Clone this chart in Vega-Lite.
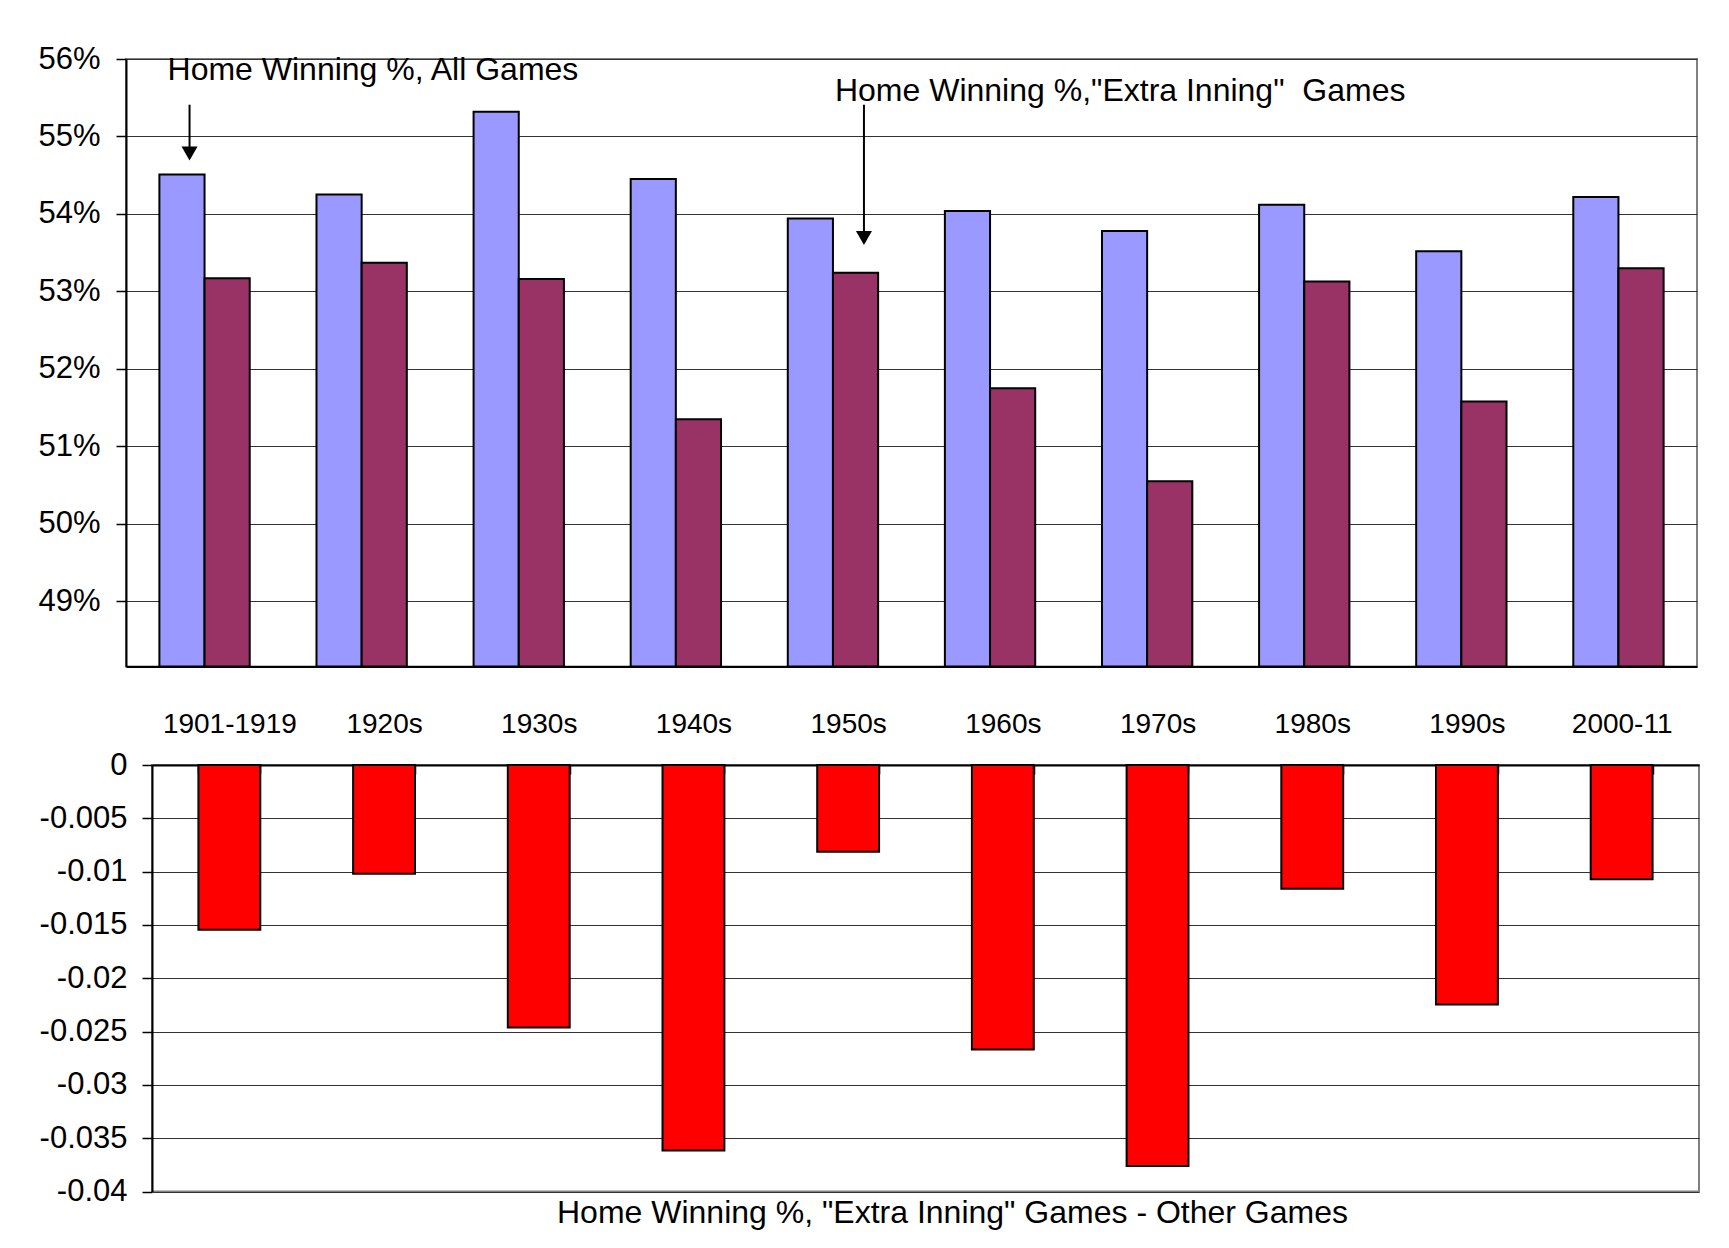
{
  "$schema": "https://vega.github.io/schema/vega-lite/v6.json",
  "usermeta": {"embedOptions": {"actions": false}},
  "background": "white",
  "padding": {"left": 0, "top": 42, "right": 20, "bottom": 10},
  "config": {
    "font": "Liberation Sans",
    "view": {"stroke": "#808080", "strokeWidth": 2},
    "axis": {"labelColor": "black", "labelFont": "Liberation Sans"}
  },
  "datasets": {
    "pct": [
      {"decade": "1901-1919", "series": "All Games", "value": 0.5451},
      {"decade": "1901-1919", "series": "Extra Inning Games", "value": 0.5317},
      {"decade": "1920s", "series": "All Games", "value": 0.5425},
      {"decade": "1920s", "series": "Extra Inning Games", "value": 0.5337},
      {"decade": "1930s", "series": "All Games", "value": 0.5532},
      {"decade": "1930s", "series": "Extra Inning Games", "value": 0.5316},
      {"decade": "1940s", "series": "All Games", "value": 0.5445},
      {"decade": "1940s", "series": "Extra Inning Games", "value": 0.5135},
      {"decade": "1950s", "series": "All Games", "value": 0.5394},
      {"decade": "1950s", "series": "Extra Inning Games", "value": 0.5324},
      {"decade": "1960s", "series": "All Games", "value": 0.5404},
      {"decade": "1960s", "series": "Extra Inning Games", "value": 0.5175},
      {"decade": "1970s", "series": "All Games", "value": 0.5378},
      {"decade": "1970s", "series": "Extra Inning Games", "value": 0.5055},
      {"decade": "1980s", "series": "All Games", "value": 0.5412},
      {"decade": "1980s", "series": "Extra Inning Games", "value": 0.5313},
      {"decade": "1990s", "series": "All Games", "value": 0.5352},
      {"decade": "1990s", "series": "Extra Inning Games", "value": 0.5158},
      {"decade": "2000-11", "series": "All Games", "value": 0.5422},
      {"decade": "2000-11", "series": "Extra Inning Games", "value": 0.5330}
    ],
    "diff": [
      {"decade": "1901-1919", "diff": -0.01545},
      {"decade": "1920s", "diff": -0.01019},
      {"decade": "1930s", "diff": -0.02462},
      {"decade": "1940s", "diff": -0.03616},
      {"decade": "1950s", "diff": -0.00813},
      {"decade": "1960s", "diff": -0.02668},
      {"decade": "1970s", "diff": -0.03761},
      {"decade": "1980s", "diff": -0.01160},
      {"decade": "1990s", "diff": -0.02246},
      {"decade": "2000-11", "diff": -0.01071}
    ]
  },
  "vconcat": [
    {
      "spacing": 0,
      "hconcat": [
        {
          "width": 1, "height": 1,
          "view": {"stroke": null, "fill": "white"},
          "data": {"values": []},
          "mark": {"type": "point", "opacity": 0}
        },
        {
          "width": 1571,
          "height": 607.5,
          "layer": [
            {
              "data": {"name": "pct"},
              "mark": {"type": "bar", "stroke": "black", "strokeWidth": 2},
              "encoding": {
                "x": {
                  "field": "decade", "type": "nominal", "sort": null,
                  "scale": {"domain": ["1901-1919", "1920s", "1930s", "1940s", "1950s", "1960s", "1970s", "1980s", "1990s", "2000-11"], "paddingInner": 0.425, "paddingOuter": 0.2125},
                  "axis": {"title": null, "labels": false, "ticks": false, "grid": false, "domain": true, "domainColor": "black", "domainWidth": 2, "minExtent": 0, "maxExtent": 0}
                },
                "xOffset": {"field": "series", "type": "nominal", "sort": null, "scale": {"paddingInner": 0, "paddingOuter": 0}},
                "y": {
                  "field": "value", "type": "quantitative",
                  "scale": {"domain": [0.4816, 0.56], "zero": false, "nice": false},
                  "axis": {
                    "title": null, "values": [0.49, 0.5, 0.51, 0.52, 0.53, 0.54, 0.55, 0.56], "format": ".0%",
                    "grid": true, "gridColor": "#333333", "gridWidth": 1,
                    "domainColor": "black", "domainWidth": 2,
                    "tickColor": "black", "tickSize": 10, "tickWidth": 1.5,
                    "labelFontSize": 31, "labelPadding": 16,
                    "minExtent": 124, "maxExtent": 124
                  }
                },
                "y2": {"datum": 0.4816},
                "color": {"field": "series", "type": "nominal", "sort": null, "scale": {"range": ["#9999FF", "#993366"]}, "legend": null}
              }
            },
            {
              "data": {"values": [{"decade": "1901-1919", "label": "Home Winning %, All Games"}]},
              "mark": {"type": "text", "align": "left", "baseline": "alphabetic", "dx": -37, "fontSize": 32, "color": "black"},
              "encoding": {
                "x": {"field": "decade", "type": "nominal"},
                "y": {"datum": 0.5573},
                "text": {"field": "label"}
              }
            },
            {
              "data": {"values": [{"decade": "1950s", "label": "Home Winning %,\"Extra Inning\"\u00a0 Games"}]},
              "mark": {"type": "text", "align": "left", "baseline": "alphabetic", "dx": 2, "fontSize": 32, "color": "black"},
              "encoding": {
                "x": {"field": "decade", "type": "nominal"},
                "y": {"datum": 0.5546},
                "text": {"field": "label"}
              }
            },
            {
              "data": {"values": [{"decade": "1901-1919"}]},
              "mark": {"type": "rule", "color": "black", "strokeWidth": 2, "xOffset": -15},
              "encoding": {
                "x": {"field": "decade", "type": "nominal"},
                "y": {"datum": 0.5541},
                "y2": {"datum": 0.5478}
              }
            },
            {
              "data": {"values": [{"decade": "1901-1919"}]},
              "mark": {"type": "point", "shape": "triangle-down", "filled": true, "color": "black", "size": 256, "opacity": 1, "xOffset": -15},
              "encoding": {
                "x": {"field": "decade", "type": "nominal"},
                "y": {"datum": 0.5478}
              }
            },
            {
              "data": {"values": [{"decade": "1950s"}]},
              "mark": {"type": "rule", "color": "black", "strokeWidth": 2, "xOffset": 31},
              "encoding": {
                "x": {"field": "decade", "type": "nominal"},
                "y": {"datum": 0.5541},
                "y2": {"datum": 0.5369}
              }
            },
            {
              "data": {"values": [{"decade": "1950s"}]},
              "mark": {"type": "point", "shape": "triangle-down", "filled": true, "color": "black", "size": 256, "opacity": 1, "xOffset": 31},
              "encoding": {
                "x": {"field": "decade", "type": "nominal"},
                "y": {"datum": 0.5369}
              }
            }
          ]
        }
      ]
    },
    {
      "spacing": 0,
      "hconcat": [
        {
          "width": 1, "height": 1,
          "view": {"stroke": null, "fill": "white"},
          "data": {"values": []},
          "mark": {"type": "point", "opacity": 0}
        },
        {
          "width": 1547,
          "height": 426.5,
          "title": {
            "text": "Home Winning %, \"Extra Inning\" Games - Other Games",
            "orient": "bottom", "anchor": "middle", "frame": "group",
            "fontSize": 32, "fontWeight": "normal", "font": "Liberation Sans", "color": "black",
            "baseline": "alphabetic", "offset": 16, "dx": 27
          },
          "data": {"name": "diff"},
          "mark": {"type": "bar", "color": "#FF0000", "stroke": "black", "strokeWidth": 2},
          "encoding": {
            "x": {
              "field": "decade", "type": "nominal", "sort": null,
              "scale": {"paddingInner": 0.6, "paddingOuter": 0.3},
              "axis": {
                "orient": "top", "title": null, "labelAngle": 0, "labelFontSize": 28,
                "labelPadding": 42, "labelBaseline": "alphabetic",
                "tickSize": -9, "tickBand": "extent", "tickColor": "black", "tickWidth": 1.5,
                "domainColor": "black", "domainWidth": 2, "grid": false,
                "minExtent": 60, "maxExtent": 60
              }
            },
            "y": {
              "field": "diff", "type": "quantitative",
              "scale": {"domain": [-0.04, 0], "nice": false},
              "axis": {
                "title": null,
                "values": [0, -0.005, -0.01, -0.015, -0.02, -0.025, -0.03, -0.035, -0.04],
                "labelExpr": "datum.value == 0 ? '0' : '-' + format(abs(datum.value), '~g')",
                "grid": true, "gridColor": "#333333", "gridWidth": 1,
                "domainColor": "black", "domainWidth": 2,
                "tickColor": "black", "tickSize": 10, "tickWidth": 1.5,
                "labelFontSize": 31, "labelPadding": 15,
                "minExtent": 150, "maxExtent": 150
              }
            }
          }
        }
      ]
    }
  ],
  "spacing": 35
}
